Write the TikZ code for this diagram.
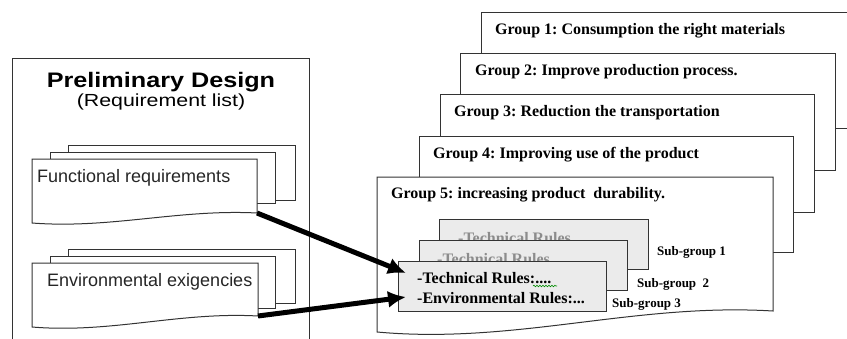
\documentclass[tikz,border=0pt]{standalone}
\usepackage{graphicx}
\usepackage{fontspec}
\setmainfont{Liberation Serif}
\newfontfamily\arialfont{Liberation Sans}
\usetikzlibrary{arrows.meta,decorations.pathmorphing}

\tikzset{
  frame/.style={draw=black!80,line width=1pt},
  sheet/.style={draw=black!80,line width=1pt,fill=white},
  subbox/.style={draw=black!80,line width=1.2pt,fill=black!8,anchor=north west,inner sep=0pt},
  titletext/.style={anchor=base,inner sep=0pt,font=\arialfont\bfseries\fontsize{21}{24}\selectfont},
  subtitletext/.style={anchor=base,inner sep=0pt,font=\arialfont\fontsize{17.5}{20}\selectfont},
  reqtext/.style={anchor=base west,inner sep=0pt,text=black!85,font=\arialfont\fontsize{18}{20}\selectfont},
  grouptext/.style={anchor=base west,inner sep=0pt,font=\bfseries\fontsize{16}{18}\selectfont},
  rulestext/.style={anchor=base west,inner sep=0pt,font=\bfseries\fontsize{16}{18}\selectfont},
  subtext/.style={anchor=base west,inner sep=0pt,font=\bfseries\fontsize{13}{15}\selectfont},
  bigarrow/.style={line width=5pt,-{Latex[length=18pt,width=17pt]}},
}

% sheet with a wavy lower edge: left, top, right, bottom (right end), drop at left end
\newcommand{\wavesheet}[5]{%
  \draw[sheet] (#1,#2) -- (#3,#2) -- (#3,#4)
    .. controls ({#3-0.35*(#3-#1)},{#4-0.4*#5}) and ({#1+0.35*(#3-#1)},{#4+1.6*#5}) .. (#1,{#4+#5}) -- cycle;}

\begin{document}
\begin{tikzpicture}[x=1pt,y=-1pt,line join=miter]
  \useasboundingbox (0,0) rectangle (847,338);
  \clip (0,0) rectangle (847,338);

  % left panel
  \draw[frame] (12,58) rectangle (309,360);
  \node[titletext] (title) at (161,87) {\scalebox{1.2}[1]{Preliminary Design}};
  \node[subtitletext] (reqlist) at (161,106) {\scalebox{1.22}[1]{(Requirement list)}};

  % functional requirements
  \draw[sheet] (68,145) rectangle (295,200);
  \draw[sheet] (50,152) rectangle (275,203);
  \wavesheet{32}{159}{257}{213}{10}
  \node[reqtext] (func) at (37,182) {Functional requirements};
  \coordinate (funcend) at (257,213);

  % environmental exigencies
  \draw[sheet] (68,249) rectangle (295,303);
  \draw[sheet] (50,256) rectangle (275,308);
  \wavesheet{32}{263}{258}{316}{11}
  \node[reqtext] (env) at (47,286) {Environmental exigencies};
  \coordinate (envend) at (258,316);

  % groups
  \draw[sheet] (481,12) rectangle (870,128);
  \node[grouptext] (gone) at (495,34) {Group 1:\ Consumption the right materials};
  \draw[sheet] (460,53) rectangle (835,170);
  \node[grouptext] (gtwo) at (475,75) {Group 2:\ Improve production process.};
  \draw[sheet] (440,94) rectangle (814,212);
  \node[grouptext] (gthree) at (454,116) {Group 3:\ Reduction the transportation};
  \draw[sheet] (419,136) rectangle (793,252);
  \node[grouptext] (gfour) at (433,158) {Group 4:\ Improving use of the product};
  \wavesheet{377}{177}{773}{311}{21}
  \node[grouptext] (gfive) at (391,198) {Group 5:\ increasing product\ \ durability.};

  % sub-groups
  \node[subbox,minimum width=209pt,minimum height=50pt] (subone) at (439,219) {};
  \node[rulestext,text=black!45] (ruleone) at (458,243) {-Technical Rules};
  \node[subbox,minimum width=208pt,minimum height=50pt] (subtwo) at (419,240) {};
  \node[rulestext,text=black!45] (ruletwo) at (437,264) {-Technical Rules};
  \node[subbox,minimum width=208pt,minimum height=50pt] (subthree) at (398,261) {};
  \node[rulestext] (techrule) at (417,283) {-Technical Rules:....};
  \node[rulestext] (envrule) at (417,303) {-Environmental Rules:...};
  \draw[green!55!black,line width=0.6pt,decorate,
    decoration={snake,amplitude=0.8pt,segment length=3pt}] (533,286) -- (557,286);

  \node[subtext] (labone) at (657,255) {Sub-group 1};
  \node[subtext] (labtwo) at (637,287) {Sub-group\ \ 2};
  \node[subtext] (labthree) at (612,307) {Sub-group 3};

  % arrows
  \coordinate (tipfunc) at (406,273);
  \coordinate (tipenv) at (406,297);
  \draw[bigarrow] (funcend) -- (tipfunc);
  \draw[bigarrow] (envend) -- (tipenv);
\end{tikzpicture}
\end{document}
